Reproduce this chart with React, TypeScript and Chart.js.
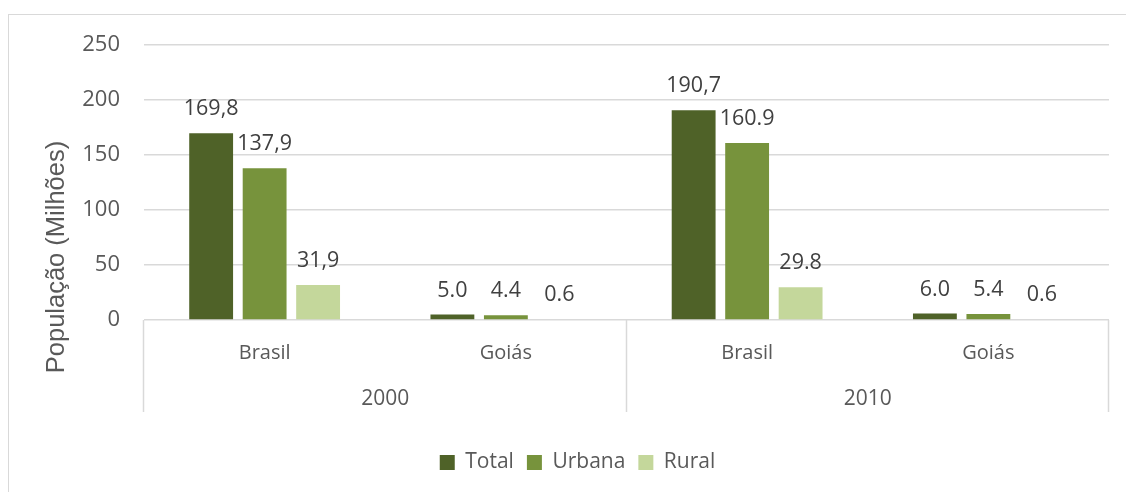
import React, { useEffect, useRef } from "react";
import { Chart, registerables } from "chart.js";

Chart.register(...registerables);

const subCategories = ["Brasil", "Goiás", "Brasil", "Goiás"];
const years = ["2000", "2010"];
const seriesNames = ["Total", "Urbana", "Rural"];
const totalValues = [169.8, 5.0, 190.7, 6.0];
const urbanaValues = [137.9, 4.4, 160.9, 5.4];
const ruralValues = [31.9, 0.6, 29.8, 0.6];
const totalLabels = ["169,8", "5.0", "190,7", "6.0"];
const urbanaLabels = ["137,9", "4.4", "160.9", "5.4"];
const ruralLabels = ["31,9", "0.6", "29.8", "0.6"];
const yTicks = [0, 50, 100, 150, 200, 250];
const yTitle = "População (Milhões)";

const colors = ["#4F6228", "#77933C", "#C4D79B"];
const textColor = "#595959";
const labelColor = "#404040";
const gridColor = "#D9D9D9";
const FONT = "'Open Sans', 'Noto Sans', sans-serif";

const valueLabelPlugin = {
  id: "valueLabels",
  afterDatasetsDraw(chart: any) {
    const ctx = chart.ctx;
    ctx.save();
    ctx.font = `21.5px ${FONT}`;
    ctx.fillStyle = labelColor;
    ctx.textAlign = "center";
    ctx.textBaseline = "middle";
    chart.data.datasets.forEach((ds: any, di: number) => {
      const meta = chart.getDatasetMeta(di);
      meta.data.forEach((el: any, i: number) => {
        ctx.fillText(ds.valueLabels[i], el.x, el.y - 24);
      });
    });
    ctx.restore();
  },
};

const axisDecorPlugin = {
  id: "axisDecor",
  afterDraw(chart: any) {
    const ctx = chart.ctx;
    const xs = chart.scales.x;
    const area = chart.chartArea;
    ctx.save();
    // separators of the two-level category axis
    const bounds = [xs.left, (xs.getPixelForValue(1) + xs.getPixelForValue(2)) / 2, xs.right];
    ctx.strokeStyle = gridColor;
    ctx.lineWidth = 1.5;
    bounds.forEach((bx) => {
      ctx.beginPath();
      ctx.moveTo(Math.round(bx) - 0.5, area.bottom);
      ctx.lineTo(Math.round(bx) - 0.5, area.bottom + 92);
      ctx.stroke();
    });
    // y axis title
    ctx.font = `25.5px 'Liberation Sans', Arial, sans-serif`;
    ctx.fillStyle = textColor;
    ctx.textAlign = "center";
    ctx.textBaseline = "middle";
    ctx.translate(57, 257);
    ctx.rotate(-Math.PI / 2);
    ctx.fillText(yTitle, 0, 0);
    ctx.restore();
  },
};

export default function App() {
  const canvasRef = useRef<HTMLCanvasElement | null>(null);

  useEffect(() => {
    const values = [totalValues, urbanaValues, ruralValues];
    const labels = [totalLabels, urbanaLabels, ruralLabels];
    const chart = new Chart(canvasRef.current as HTMLCanvasElement, {
      type: "bar",
      data: {
        labels: subCategories,
        datasets: seriesNames.map((name, i) => ({
          label: name,
          data: values[i],
          valueLabels: labels[i],
          backgroundColor: colors[i],
          borderWidth: 0,
          categoryPercentage: 0.665,
          barPercentage: 0.82,
          xAxisID: "x",
        })) as any,
      },
      options: {
        animation: false,
        responsive: false,
        layout: { padding: { left: 46, right: 17, top: 45, bottom: 9 } },
        plugins: {
          tooltip: { enabled: false },
          legend: {
            position: "bottom",
            labels: {
              boxWidth: 15,
              boxHeight: 15,
              padding: 13,
              color: textColor,
              font: { family: FONT, size: 21 },
            },
          },
        },
        scales: {
          y: {
            min: 0,
            max: 250,
            afterBuildTicks(scale: any) {
              scale.ticks = yTicks.map((v) => ({ value: v }));
            },
            afterFit(scale: any) {
              scale.width = 98;
            },
            grid: { color: gridColor, lineWidth: 1.5, drawTicks: false },
            border: { display: false },
            ticks: {
              padding: 24,
              color: textColor,
              font: { family: FONT, size: 22 },
            },
          },
          x: {
            type: "category",
            position: "bottom",
            grid: { display: false },
            border: { display: false },
            afterFit(scale: any) {
              scale.height = 45;
            },
            ticks: {
              padding: 13,
              color: textColor,
              font: { family: FONT, size: 20 },
            },
          },
          x2: {
            type: "category",
            position: "bottom",
            labels: years,
            offset: true,
            grid: { display: false },
            border: { display: false },
            afterFit(scale: any) {
              scale.height = 74;
            },
            ticks: {
              padding: 13,
              color: textColor,
              font: { family: FONT, size: 21 },
            },
          },
        },
      } as any,
      plugins: [valueLabelPlugin, axisDecorPlugin],
    });
    return () => chart.destroy();
  }, []);

  return (
    <div>
      <div
        style={{
          position: "fixed",
          left: 0,
          top: 0,
          width: 1126,
          height: 492,
          background: "#ffffff",
        }}
      >
        <canvas ref={canvasRef} width={1126} height={492} style={{ width: 1126, height: 492 }} />
      </div>
      <div
        style={{
          position: "fixed",
          left: 8,
          top: 14,
          right: 0,
          bottom: 0,
          borderTop: `1.5px solid ${gridColor}`,
          borderLeft: `1.5px solid ${gridColor}`,
          pointerEvents: "none",
        }}
      />
    </div>
  );
}
